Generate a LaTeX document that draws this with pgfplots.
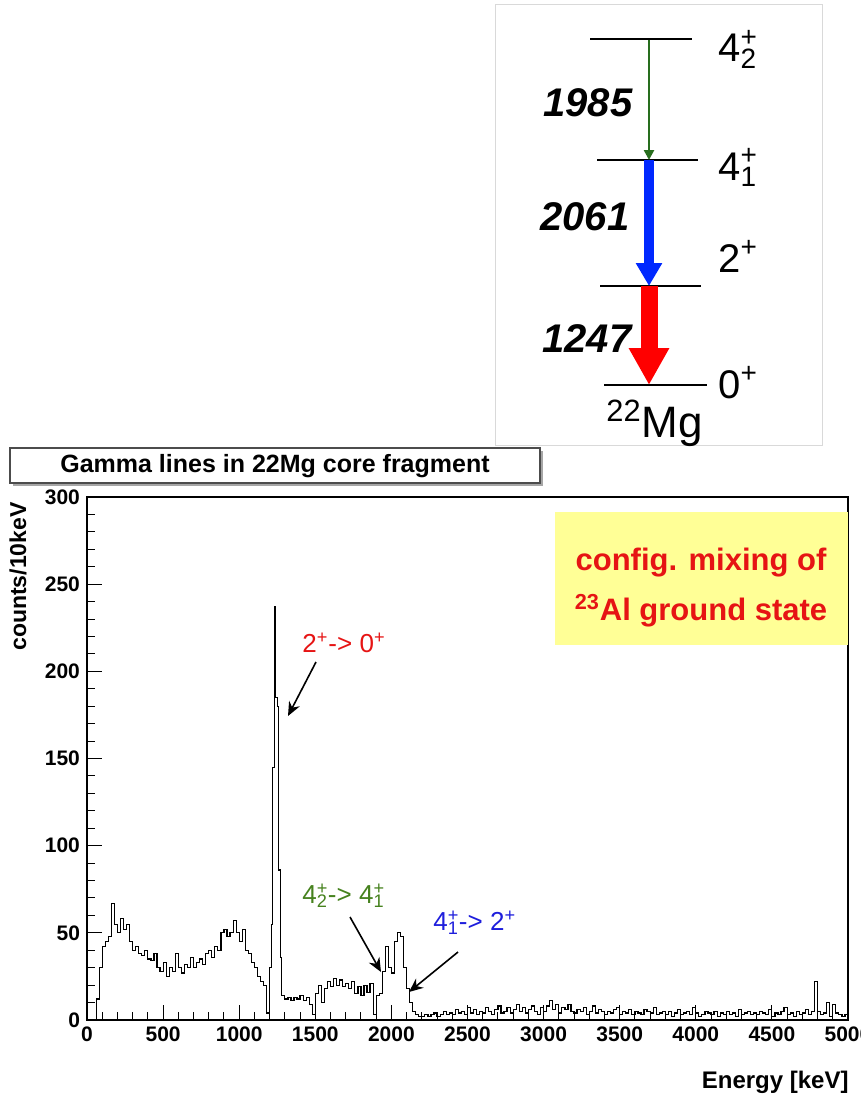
\documentclass[border=0pt]{standalone}
\usepackage{pgfplots}
\pgfplotsset{compat=1.18}
\usepackage{fontspec}
\setmainfont{Liberation Sans}
\usetikzlibrary{arrows.meta}
\definecolor{annred}{RGB}{230,20,20}
\definecolor{anngreen}{RGB}{70,130,30}
\definecolor{annblue}{RGB}{30,30,220}
\definecolor{boxyellow}{RGB}{255,255,150}
\definecolor{lvlgreen}{RGB}{40,110,30}
\definecolor{lvlblue}{RGB}{0,40,255}
\definecolor{lvlred}{RGB}{255,0,0}
\begin{document}
\begin{tikzpicture}
\begin{scope}[x=0.5pt,y=-0.5pt]
% level scheme inset
\draw[gray!30, line width=0.5pt, fill=white] (495,5) rectangle (822,445);
\draw[line width=0.9pt] (590,39) -- (692,39);
\draw[line width=0.9pt] (597,160) -- (698,160);
\draw[line width=0.9pt] (600,286) -- (701,286);
\draw[line width=0.9pt] (604,385) -- (707,385);
\draw[lvlgreen, line width=1.3pt, -{Triangle[length=5pt,width=5pt]}] (649,40) -- (649,160);
\draw[lvlblue, line width=5pt, -{Triangle[length=11.5pt,width=12.5pt]}] (649,160) -- (649,286);
\draw[lvlred, line width=8.5pt, -{Triangle[length=18.5pt,width=19pt]}] (649,286) -- (649,385);
\node[anchor=base west, inner sep=0pt, font=\fontsize{20}{22}\selectfont] at (718,62) {4\rlap{\textsuperscript{+}}\textsubscript{2}};
\node[anchor=base west, inner sep=0pt, font=\fontsize{20}{22}\selectfont] at (718,180) {4\rlap{\textsuperscript{+}}\textsubscript{1}};
\node[anchor=base west, inner sep=0pt, font=\fontsize{20}{22}\selectfont] at (718,272) {2\textsuperscript{+}};
\node[anchor=base west, inner sep=0pt, font=\fontsize{20}{22}\selectfont] at (718,398) {0\textsuperscript{+}};
\node[anchor=base west, inner sep=0pt, font=\fontsize{22}{24}\selectfont] at (606,437) {\textsuperscript{22}Mg};
\node[anchor=base west, inner sep=0pt, font=\fontsize{20}{22}\selectfont\bfseries\itshape] at (543,117) {1985};
\node[anchor=base west, inner sep=0pt, font=\fontsize{20}{22}\selectfont\bfseries\itshape] at (540,230) {2061};
\node[anchor=base west, inner sep=0pt, font=\fontsize{20}{22}\selectfont\bfseries\itshape] at (542,352) {1247};
% title box
\fill[gray!70] (13,451) rectangle (543,486);
\draw[gray!60!black, line width=0.6pt, fill=white] (10,448) rectangle (540,483);
\node[font=\fontsize{12.5}{14}\selectfont\bfseries] at (275,466) {Gamma lines in 22Mg core fragment};
\end{scope}
\begin{axis}[
  at={(43.5pt,-510pt)}, anchor=south west,
  scale only axis, width=380.5pt, height=261.5pt,
  xmin=0, xmax=5000, ymin=0, ymax=300,
  xtick={0,500,...,5000}, ytick={0,50,...,300},
  minor x tick num=4, minor y tick num=4,
  xtick pos=bottom, ytick pos=left,
  tick align=inside,
  major tick length=7.5pt, minor tick length=4pt,
  tick style={black, line width=0.5pt},
  axis line style={line width=0.6pt},
  /pgf/number format/assume math mode=true,
  /pgf/number format/1000 sep={},
  ticklabel style={font=\fontsize{10.5}{12}\selectfont\bfseries},
]
\addplot[const plot, black, line width=0.6pt] coordinates {
(0,0) (20,0) (40,0) (60,12) (80,30) (100,42) (120,45) (140,48) (160,67) (180,55)
(200,50) (220,58) (240,52) (260,55) (280,45) (300,40) (320,42) (340,38) (360,37) (380,40)
(400,35) (420,34) (440,38) (460,30) (480,28) (500,33) (520,25) (540,30) (560,28) (580,38)
(600,30) (620,27) (640,32) (660,30) (680,36) (700,30) (720,33) (740,35) (760,32) (780,38)
(800,40) (820,36) (840,42) (860,40) (880,50) (900,52) (920,48) (940,50) (960,57) (980,50)
(1000,45) (1020,52) (1040,40) (1060,38) (1080,33) (1100,30) (1120,25) (1140,22) (1160,20) (1180,4)
(1200,30) (1210,55) (1220,145) (1230,237) (1240,185) (1250,180) (1260,86) (1270,36)
(1280,14) (1300,12) (1320,13) (1340,11) (1360,13) (1380,12) (1400,14) (1420,11) (1440,13) (1460,9)
(1480,3) (1500,15) (1520,20) (1540,10) (1560,18) (1580,22) (1600,19) (1620,24) (1640,20) (1660,23)
(1680,19) (1700,21) (1720,18) (1740,22) (1760,15) (1780,19) (1800,14) (1820,20) (1840,16) (1860,21)
(1880,3) (1900,14) (1920,15) (1940,28) (1960,42) (1980,30) (2000,27) (2020,45) (2040,50) (2060,48)
(2080,30) (2100,18) (2120,10) (2140,5) (2160,3) (2180,2)
(2200,2) (2220,3) (2240,2) (2260,3) (2280,4) (2300,2) (2320,3) (2340,5) (2360,3) (2380,4)
(2400,3) (2420,6) (2440,4) (2460,5) (2480,3) (2500,7) (2520,4) (2540,6) (2560,3) (2580,5)
(2600,4) (2620,7) (2640,5) (2660,3) (2680,6) (2700,8) (2720,4) (2740,5) (2760,7) (2780,4)
(2800,6) (2820,9) (2840,5) (2860,7) (2880,4) (2900,6) (2920,8) (2940,5) (2960,3) (2980,7)
(3000,5) (3020,8) (3040,11) (3060,6) (3080,9) (3100,4) (3120,7) (3140,6) (3160,9) (3180,5)
(3200,4) (3220,6) (3240,5) (3260,7) (3280,3) (3300,5) (3320,8) (3340,4) (3360,6) (3380,5)
(3400,3) (3420,5) (3440,4) (3460,6) (3480,7) (3500,3) (3520,5) (3540,4) (3560,6) (3580,3)
(3600,5) (3620,4) (3640,3) (3660,6) (3680,5) (3700,4) (3720,7) (3740,3) (3760,4) (3780,5)
(3800,3) (3820,5) (3840,2) (3860,4) (3880,6) (3900,3) (3920,4) (3940,5) (3960,3) (3980,7)
(4000,4) (4020,2) (4040,3) (4060,5) (4080,4) (4100,3) (4120,5) (4140,2) (4160,4) (4180,3)
(4200,5) (4220,3) (4240,4) (4260,2) (4280,6) (4300,3) (4320,4) (4340,5) (4360,3) (4380,4)
(4400,3) (4420,5) (4440,4) (4460,3) (4480,6) (4500,2) (4520,4) (4540,3) (4560,5) (4580,7)
(4600,3) (4620,4) (4640,2) (4660,5) (4680,3) (4700,4) (4720,6) (4740,3) (4760,5) (4780,22)
(4800,5) (4820,3) (4840,4) (4860,10) (4880,2) (4900,9) (4920,4) (4940,3) (4960,2) (4980,3) (5000,3)
};
\end{axis}
\begin{scope}[x=0.5pt,y=-0.5pt]
% yellow box
\fill[boxyellow] (555,512) rectangle (848,645);
\node[anchor=base, inner sep=0pt, text=annred, font=\fontsize{15.5}{17}\selectfont\bfseries] at (701,570) {config. mixing of};
\node[anchor=base, inner sep=0pt, text=annred, font=\fontsize{15.5}{17}\selectfont\bfseries] at (701,620) {\textsuperscript{23}Al ground state};
% annotations
\node[anchor=base west, inner sep=0pt, text=annred, font=\fontsize{13}{15}\selectfont] at (302,652) {2\textsuperscript{+}-> 0\textsuperscript{+}};
\draw[line width=0.8pt, -{Stealth[length=7pt,width=6pt]}] (316,662) -- (288,716);
\node[anchor=base west, inner sep=0pt, text=anngreen, font=\fontsize{13}{15}\selectfont] at (302,903) {4\rlap{\textsuperscript{+}}\textsubscript{2}-> 4\rlap{\textsuperscript{+}}\textsubscript{1}};
\draw[line width=0.8pt, -{Stealth[length=7pt,width=6pt]}] (350,917) -- (381,972);
\node[anchor=base west, inner sep=0pt, text=annblue, font=\fontsize{13}{15}\selectfont] at (433,930) {4\rlap{\textsuperscript{+}}\textsubscript{1}-> 2\textsuperscript{+}};
\draw[line width=0.8pt, -{Stealth[length=7pt,width=6pt]}] (458,952) -- (409,992);
% axis labels
\node[rotate=90, anchor=east, inner sep=0pt, font=\fontsize{11.5}{13}\selectfont\bfseries] at (18,502) {counts/10keV};
\node[anchor=east, inner sep=0pt, font=\fontsize{12}{14}\selectfont\bfseries] at (849,1082) {Energy [keV]};
\pgfresetboundingbox
\path[use as bounding box] (0,0) rectangle (861,1102);
\end{scope}
\end{tikzpicture}
\end{document}
